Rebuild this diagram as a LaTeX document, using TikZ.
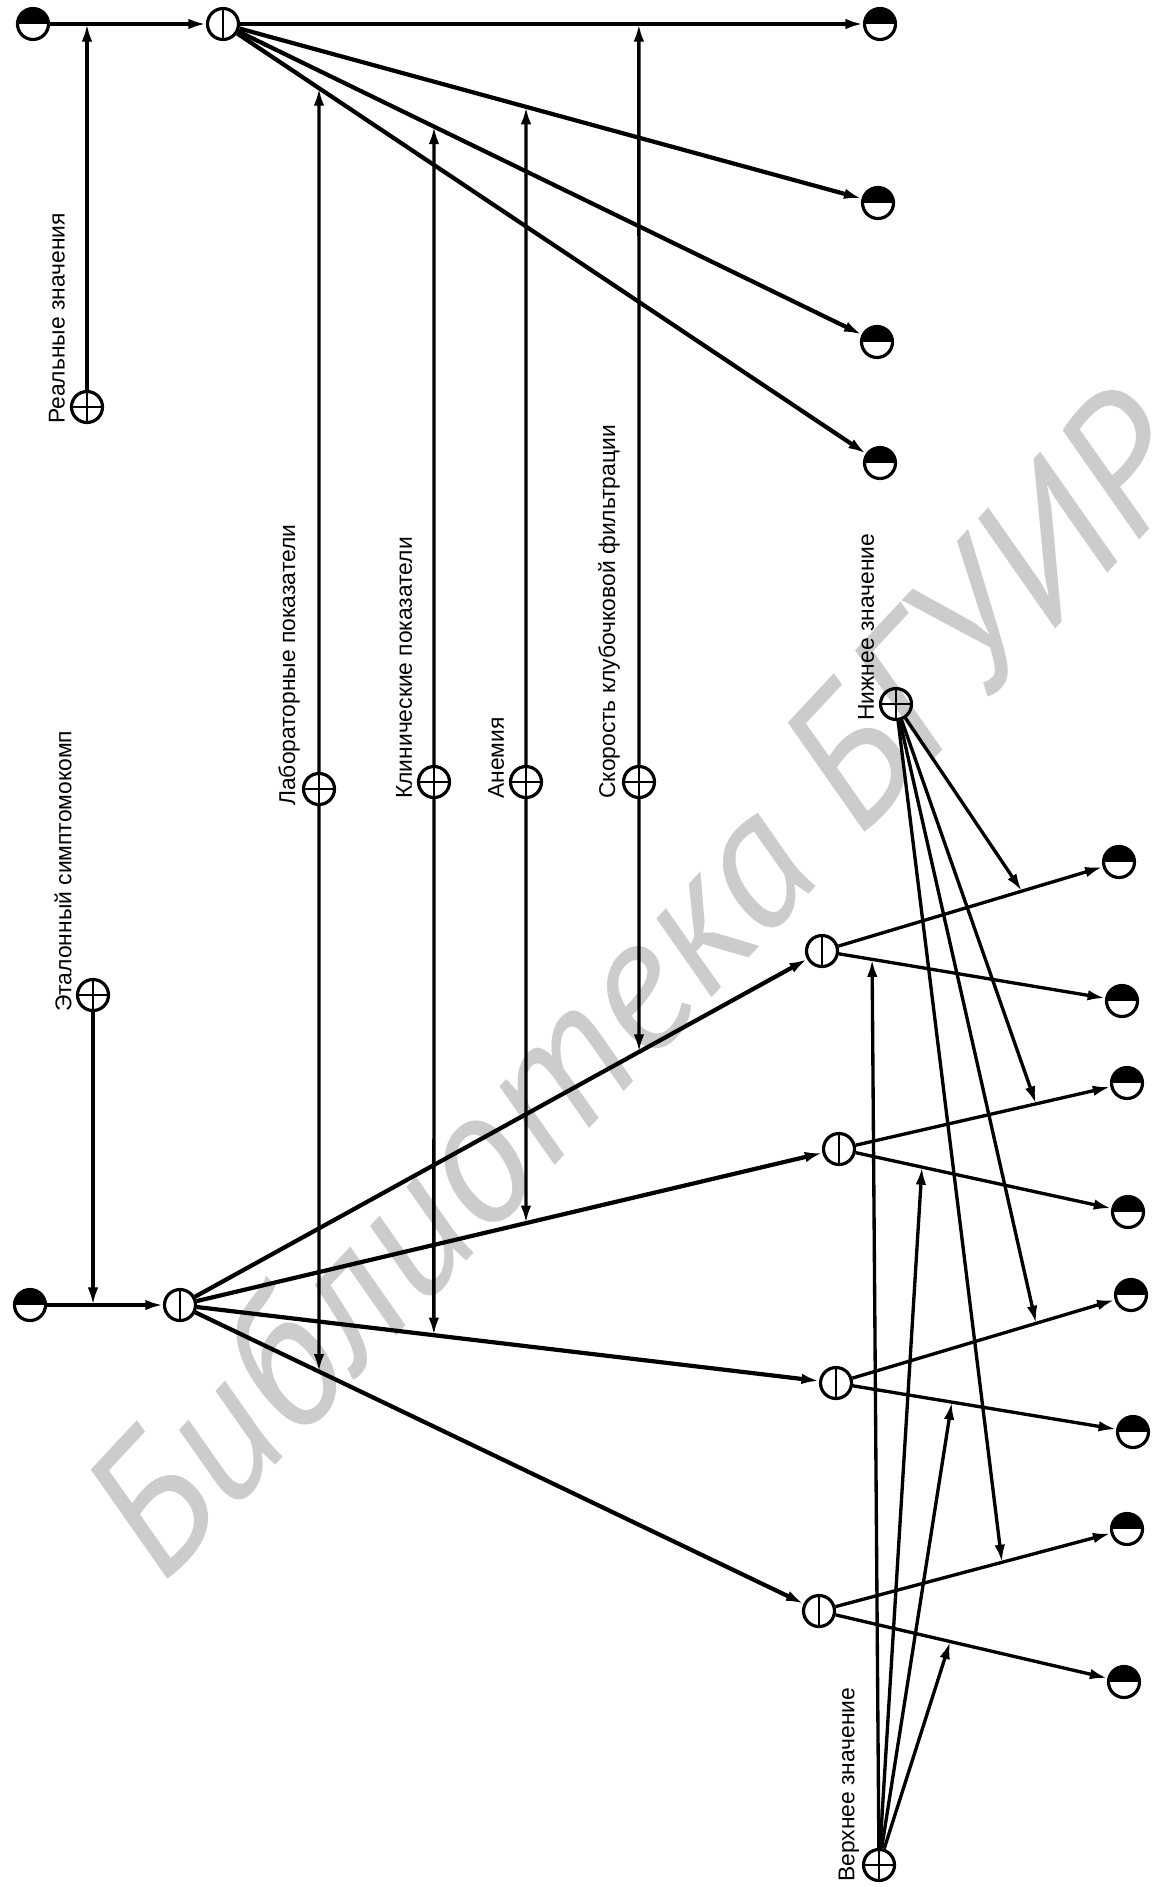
\documentclass[tikz,border=0pt]{standalone}
\usepackage{fontspec}
\setmainfont{Liberation Sans}
\newfontfamily\wmfont{PT Sans}
\usetikzlibrary{calc, arrows.meta}

\begin{document}
\begin{tikzpicture}[
  x=0.02cm, y=-0.02cm,
  halfnode/.style={circle, draw, line width=1.8pt, minimum size=0.62cm, inner sep=0pt,
    path picture={\fill (path picture bounding box.west) rectangle
      (path picture bounding box.north east);}},
  splitnode/.style={circle, draw, line width=1.8pt, minimum size=0.62cm, inner sep=0pt,
    path picture={\draw[line width=0.7pt] (path picture bounding box.north) --
      (path picture bounding box.south);}},
  parnode/.style={circle, draw, line width=1.8pt, minimum size=0.62cm, inner sep=0pt,
    path picture={\draw[line width=0.7pt]
      (path picture bounding box.north) -- (path picture bounding box.south)
      (path picture bounding box.west) -- (path picture bounding box.east);}},
  lbl/.style={rotate=90, anchor=west, inner sep=0pt,
    font=\fontsize{13}{15}\selectfont},
  arw/.style={-{Latex[length=10pt, width=6pt]}, line width=1.9pt},
  fat/.style={line width=2.4pt},
]
\useasboundingbox (0,0) rectangle (1160,1887);

% Watermark
\node[rotate=47, text=black!20, font=\wmfont\itshape\fontsize{107}{107}\selectfont]
  (wm) at (634,983) {Библиотека БГУИР};

% Real values branch
\node[halfnode] (in1) at (33,24) {};
\node[splitnode] (s1) at (223,24) {};
\node[parnode] (real) at (87,407) {};
\node[halfnode] (o1) at (880,24) {};
\node[halfnode] (o2) at (878,203) {};
\node[halfnode] (o3) at (877,342) {};
\node[halfnode] (o4) at (880,463) {};

% Reference complex branch
\node[halfnode] (in2) at (30,1305) {};
\node[splitnode] (s2) at (180,1305) {};
\node[parnode] (etal) at (93,995) {};
\node[splitnode] (na) at (822,951) {};
\node[splitnode] (nb) at (839,1149) {};
\node[splitnode] (nc) at (836,1383) {};
\node[splitnode] (nd) at (819,1611) {};
\node[halfnode] (a1) at (1119,862) {};
\node[halfnode] (a2) at (1122,1001) {};
\node[halfnode] (b1) at (1127,1083) {};
\node[halfnode] (b2) at (1128,1212) {};
\node[halfnode] (c1) at (1131,1295) {};
\node[halfnode] (c2) at (1133,1432) {};
\node[halfnode] (d1) at (1127,1529) {};
\node[halfnode] (d2) at (1124,1682) {};

% Indicators
\node[parnode] (lab) at (319,789) {};
\node[parnode] (clin) at (434,782) {};
\node[parnode] (anem) at (526,782) {};
\node[parnode] (gfr) at (639,782) {};
\node[parnode] (low) at (896,704) {};
\node[parnode] (high) at (879,1865) {};

% Labels
\node[lbl] at ($(real.south)+(-30,0)$) {Реальные значения};
\node[lbl] at ($(etal.south)+(-30,0)$) {Эталонный симптомокомп};
\node[lbl] at ($(lab.south)+(-30,0)$) {Лабораторные показатели};
\node[lbl] at ($(clin.south)+(-30,0)$) {Клинические показатели};
\node[lbl] at ($(anem.south)+(-30,0)$) {Анемия};
\node[lbl] at ($(gfr.south)+(-30,0)$) {Скорость клубочковой фильтрации};
\node[lbl] at ($(low.south)+(-30,0)$) {Нижнее значение};
\node[lbl] at ($(high.south)+(-30,0)$) {Верхнее значение};

% Points where indicators meet the lines
\coordinate (gfr-u) at ($(s1)!0.633!(o1)$);
\coordinate (anem-u) at ($(s1)!0.4626!(o2)$);
\coordinate (clin-u) at ($(s1)!0.3226!(o3)$);
\coordinate (lab-u) at ($(s1)!0.1461!(o4)$);
\coordinate (gfr-d) at ($(s2)!0.715!(na)$);
\coordinate (anem-d) at ($(s2)!0.525!(nb)$);
\coordinate (clin-d) at ($(s2)!0.387!(nc)$);
\coordinate (lab-d) at ($(s2)!0.2175!(nd)$);
\coordinate (low-a) at ($(na)!0.673!(a1)$);
\coordinate (low-b) at ($(nb)!0.684!(b1)$);
\coordinate (low-c) at ($(nc)!0.678!(c1)$);
\coordinate (low-d) at ($(nd)!0.594!(d1)$);
\coordinate (high-a) at ($(na)!0.167!(a2)$);
\coordinate (high-b) at ($(nb)!0.287!(b2)$);
\coordinate (high-c) at ($(nc)!0.39!(c2)$);
\coordinate (high-d) at ($(nd)!0.43!(d2)$);

% Arrows, upper part
\draw[arw] (in1) -- (s1);
\draw[arw] (real) -- (real |- in1);
\draw[arw] (s1) -- (o1);
\foreach \o in {o2,o3,o4}
  \draw[arw, fat] (s1) -- (\o);

% Arrows, lower part
\draw[arw] (in2) -- (s2);
\draw[arw] (etal) -- (etal |- in2);
\foreach \n in {na,nb,nc,nd}
  \draw[arw, fat] (s2) -- (\n);
\foreach \n/\o in {na/a1,na/a2,nb/b1,nb/b2,nc/c1,nc/c2,nd/d1,nd/d2}
  \draw[arw] (\n) -- (\o);

% Indicators up and down
\foreach \p in {lab,clin,anem,gfr} {
  \draw[arw] (\p) -- (\p-u);
  \draw[arw] (\p) -- (\p-d);
}
\foreach \k in {a,b,c,d} {
  \draw[arw] (low) -- (low-\k);
  \draw[arw] (high) -- (high-\k);
}
\end{tikzpicture}
\end{document}
